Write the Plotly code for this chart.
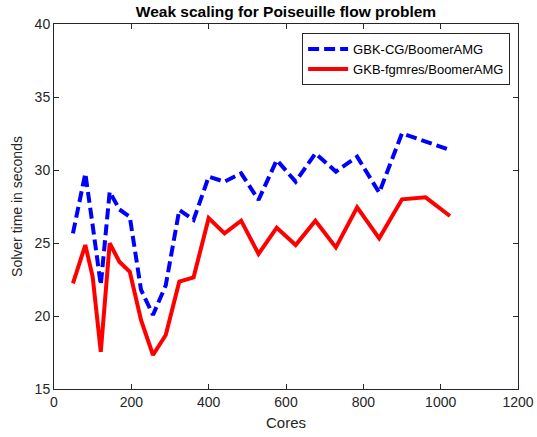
import plotly.graph_objects as go

cores = [49, 81, 100, 121, 144, 169, 196, 225, 256, 289, 324, 361, 400, 441,
         484, 529, 576, 625, 676, 729, 784, 841, 900, 961, 1024]
gbk_cg = [25.66, 29.77, 26.2, 22.12, 28.51, 27.3, 26.8, 21.8, 20.07, 22.1, 27.26,
          26.58, 29.54, 29.2, 29.77, 27.95, 30.68, 29.2, 31.14, 29.89, 30.91,
          28.45, 32.51, 31.94, 31.37]
gkb_fgmres = [22.24, 24.86, 22.69, 17.55, 24.98, 23.72, 23.03, 19.73, 17.33, 18.7,
              22.35, 22.65, 26.7, 25.66, 26.53, 24.25, 26.05, 24.86, 26.53, 24.7,
              27.45, 25.32, 27.99, 28.13, 26.85]
x_ticks = [0, 200, 400, 600, 800, 1000, 1200]
y_ticks = [15, 20, 25, 30, 35, 40]

axcol = "#262626"
font = "Liberation Sans, Arial, sans-serif"

fig = go.Figure()
fig.add_trace(go.Scatter(x=cores, y=gbk_cg, mode="lines", name="GBK-CG/BoomerAMG",
                         line=dict(color="#0000ff", width=4, dash="11px,5px")))
fig.add_trace(go.Scatter(x=cores, y=gkb_fgmres, mode="lines", name="GKB-fgmres/BoomerAMG",
                         line=dict(color="#ff0000", width=4)))

axis_common = dict(showgrid=False, zeroline=False, showline=True, linecolor=axcol,
                   linewidth=1, mirror="ticks", ticks="inside", ticklen=5,
                   tickcolor=axcol, automargin=False,
                   tickfont=dict(family=font, size=14, color=axcol))
fig.update_xaxes(range=[0, 1200], tickvals=x_ticks, **axis_common,
                 title=dict(text="Cores", font=dict(family=font, size=15, color=axcol),
                            standoff=8))
fig.update_yaxes(range=[15, 40], tickvals=y_ticks, **axis_common,
                 title=dict(text="Solver time in seconds",
                            font=dict(family=font, size=14, color=axcol), standoff=8))

fig.update_layout(
    width=537, height=437,
    margin=dict(l=54, r=19, t=24, b=48, autoexpand=False),
    paper_bgcolor="white", plot_bgcolor="white",
    title=dict(text="<b>Weak scaling for Poiseuille flow problem</b>",
               font=dict(family=font, size=15.5, color="black"),
               x=0.5, xref="paper", xanchor="center",
               y=1 - 12 / 437, yref="container", yanchor="middle"),
    legend=dict(x=0.983, y=0.975, xanchor="right", yanchor="top",
                bordercolor=axcol, borderwidth=1, bgcolor="white",
                font=dict(family=font, size=13, color="black"),
                tracegroupgap=0, itemwidth=40),
    showlegend=True,
)

fig.write_html("out.html")
